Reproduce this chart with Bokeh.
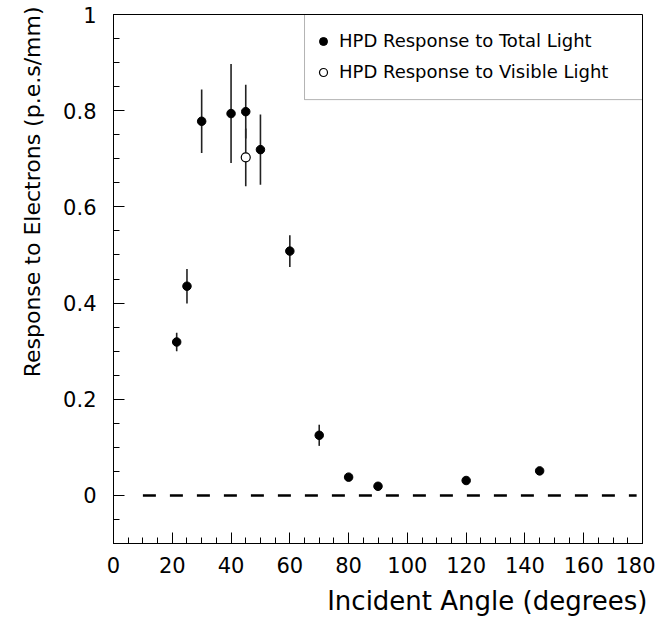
from bokeh.plotting import figure
from bokeh.models import FixedTicker, BoxAnnotation, Legend, LegendItem, ColumnDataSource, Title
from bokeh.embed import file_html
from bokeh.resources import INLINE

# ---- data ----
angle_total = [21.5, 25, 30, 40, 45, 50, 60, 70, 80, 90, 120, 145]
resp_total = [0.319, 0.435, 0.778, 0.794, 0.798, 0.719, 0.508, 0.125, 0.038, 0.019, 0.031, 0.051]
err_total = [0.019, 0.036, 0.066, 0.103, 0.056, 0.073, 0.033, 0.022, 0.004, 0.004, 0.004, 0.004]

angle_visible = [45]
resp_visible = [0.703]
err_visible = [0.060]

ref_x = [10, 178]
ref_y = [0, 0]

x_ticks = [0, 20, 40, 60, 80, 100, 120, 140, 160, 180]
x_minor = [v * 5 for v in range(0, 37)]
y_ticks = [0, 0.2, 0.4, 0.6, 0.8, 1.0]
y_tick_labels = ["0", "0.2", "0.4", "0.6", "0.8", "1"]
y_minor = [round(-0.1 + 0.05 * i, 2) for i in range(0, 23)]

x_title = "Incident Angle (degrees)"
y_title = "Response to Electrons (p.e.s/mm)"
legend_labels = ["HPD Response to Total Light", "HPD Response to Visible Light"]

FONT = "DejaVu Sans"
X0, X1, Y0, Y1 = 0, 180, -0.1, 1.0

p = figure(width=655, height=625, x_range=(X0, X1), y_range=(Y0, Y1),
           output_backend="svg", toolbar_location=None,
           min_border_left=113, min_border_right=13, min_border_top=14, min_border_bottom=82)

p.xgrid.visible = False
p.ygrid.visible = False
p.outline_line_color = "black"
p.outline_line_width = 1
p.background_fill_color = "white"
p.border_fill_color = "white"

# axes
for ax in (p.xaxis[0], p.yaxis[0]):
    ax.major_tick_in = 11
    ax.major_tick_out = 0
    ax.minor_tick_in = 6
    ax.minor_tick_out = 0
    ax.axis_line_color = "black"
    ax.major_tick_line_color = "black"
    ax.minor_tick_line_color = "black"
    ax.major_label_text_font = FONT
    ax.major_label_text_font_size = "21px"
    ax.major_label_text_color = "black"

p.xaxis.ticker = FixedTicker(ticks=x_ticks, minor_ticks=x_minor)
p.yaxis.ticker = FixedTicker(ticks=y_ticks, minor_ticks=y_minor)
p.yaxis.major_label_overrides = {t: l for t, l in zip(y_ticks, y_tick_labels)}
p.xaxis.major_label_standoff = 13
p.yaxis.major_label_standoff = 17

# axis titles, right/top aligned as in the reference
p.add_layout(Title(text=x_title, align="right", offset=-5, standoff=17,
                   text_font=FONT, text_font_size="26px", text_font_style="normal",
                   text_color="black"), "below")
p.add_layout(Title(text=y_title, align="right", offset=-8, standoff=32,
                   text_font=FONT, text_font_size="22px", text_font_style="normal",
                   text_color="black"), "left")

# reference dashed line at zero
p.line(ref_x, ref_y, line_color="black", line_width=2.5, line_dash="13 14")

# error bars
tot = ColumnDataSource(dict(x=angle_total, y=resp_total,
                            lo=[y - e for y, e in zip(resp_total, err_total)],
                            hi=[y + e for y, e in zip(resp_total, err_total)]))
vis = ColumnDataSource(dict(x=angle_visible, y=resp_visible,
                            lo=[y - e for y, e in zip(resp_visible, err_visible)],
                            hi=[y + e for y, e in zip(resp_visible, err_visible)]))
p.segment(x0="x", y0="lo", x1="x", y1="hi", source=tot, line_color="#222222", line_width=1.6)
p.segment(x0="x", y0="lo", x1="x", y1="hi", source=vis, line_color="#222222", line_width=1.6)

r_tot = p.scatter("x", "y", source=tot, size=8.5, marker="circle",
                  fill_color="black", line_color="black")
r_vis = p.scatter("x", "y", source=vis, size=9, marker="circle",
                  fill_color="white", line_color="black", line_width=1.2)

# legend box
p.add_layout(BoxAnnotation(left=65, right=X1, top=Y1, bottom=0.823,
                           fill_alpha=0, line_color="black", line_width=1))

legend = Legend(items=[LegendItem(label=legend_labels[0], renderers=[r_tot]),
                       LegendItem(label=legend_labels[1], renderers=[r_vis])],
                location=(195, 456), orientation="vertical",
                glyph_width=20, glyph_height=20, label_height=20,
                spacing=10, padding=5, margin=0, label_standoff=6,
                label_text_font=FONT, label_text_font_size="18px",
                label_text_color="black",
                border_line_alpha=0, background_fill_alpha=0)
p.add_layout(legend, "center")

open("out.html", "w").write(file_html(p, INLINE))
